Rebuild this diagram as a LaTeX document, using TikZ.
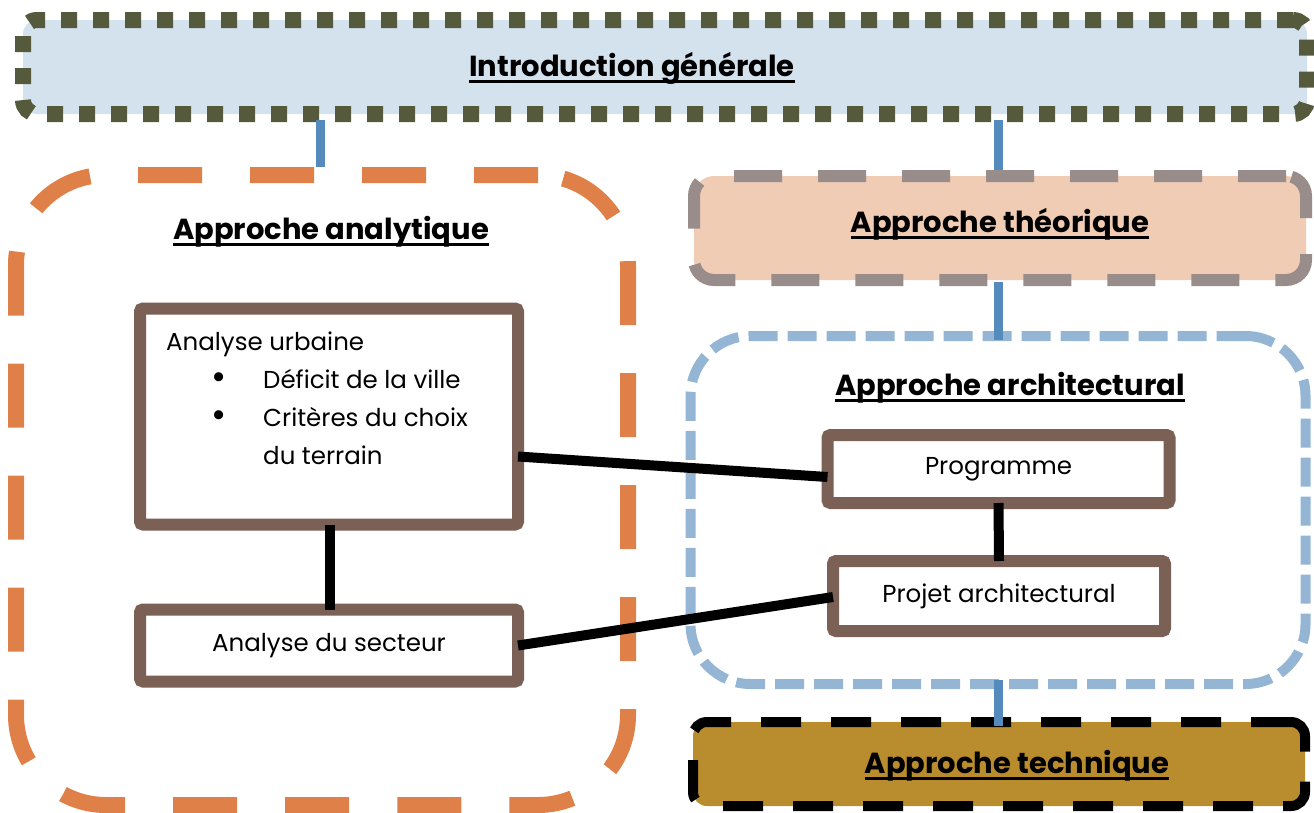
\documentclass[tikz,border=0pt]{standalone}
\usepackage{fontspec}
\setmainfont{Poppins}
\usetikzlibrary{positioning}
\definecolor{introfill}{HTML}{D4E2EE}
\definecolor{olive}{HTML}{555A3C}
\definecolor{orangeD}{HTML}{DE8048}
\definecolor{theofill}{HTML}{F0CCB4}
\definecolor{greyD}{HTML}{988D8B}
\definecolor{archD}{HTML}{94B6D4}
\definecolor{techfill}{HTML}{B98C2E}
\definecolor{brownB}{HTML}{7A6055}
\definecolor{linkblue}{HTML}{558ABC}
\newcommand{\bigbul}{\raisebox{-1pt}{\scalebox{1.5}{•}}}
\tikzset{
  titletext/.style={font=\fontsize{29}{34}\selectfont\bfseries, inner sep=0pt, outer sep=0pt, anchor=base},
  bodytext/.style={font=\fontsize{24.5}{38}\selectfont},
  sectbox/.style={inner sep=0pt, outer sep=0pt},
  itembox/.style={draw=brownB, line width=12pt, fill=white, rounded corners=3pt, inner sep=0pt, outer sep=0pt, bodytext},
  bluelink/.style={draw=linkblue, line width=9pt},
  blacklink/.style={draw=black, line width=10pt},
  uline/.style={draw=black, line width=2.8pt},
}
\begin{document}
\begin{tikzpicture}[x=1pt,y=-1pt]
\useasboundingbox (0,0) rectangle (1314,812);
% Introduction
\node[sectbox, fill=introfill, draw=olive, line width=16pt, dash pattern=on 16pt off 16pt, rounded corners=14pt,
  minimum width=1284pt, minimum height=94pt] (intro) at (665,67) {};
\node[titletext] (introt) at (632,76) {Introduction générale};
\draw[uline] ([yshift=-5.5pt]introt.base west) -- ([yshift=-5.5pt]introt.base east);
% Approche analytique
\node[sectbox, draw=orangeD, line width=16pt, dash pattern=on 64pt off 48pt, rounded corners=90pt,
  minimum width=612pt, minimum height=630pt] (ana) at (322,490) {};
\node[titletext] (anat) at (331,239) {Approche analytique};
\draw[uline] ([yshift=-5.5pt]anat.base west) -- ([yshift=-5.5pt]anat.base east);
% Approche theorique
\node[sectbox, fill=theofill, draw=greyD, line width=12pt, dash pattern=on 48pt off 36pt, rounded corners=20pt,
  minimum width=612pt, minimum height=104pt] (theo) at (1000,228) {};
\node[titletext] (theot) at (1000,232) {Approche théorique};
\draw[uline] ([yshift=-5.5pt]theot.base west) -- ([yshift=-5.5pt]theot.base east);
% Approche architectural
\node[sectbox, draw=archD, line width=10pt, dash pattern=on 29pt off 10pt, rounded corners=60pt,
  minimum width=615pt, minimum height=348pt] (arch) at (998,510) {};
\node[titletext] (archt) at (1010,395) {Approche architectural};
\draw[uline] ([yshift=-5.5pt]archt.base west) -- ([yshift=-5.5pt]archt.base east);
% Approche technique
\node[sectbox, fill=techfill, draw=black, line width=10pt, dash pattern=on 40pt off 30pt, rounded corners=14pt,
  minimum width=612pt, minimum height=84pt] (tech) at (999,764) {};
\node[titletext] (techt) at (1017,773) {Approche technique};
\draw[uline] ([yshift=-5.5pt]techt.base west) -- ([yshift=-5.5pt]techt.base east);
% inner boxes
\node[itembox, minimum width=378pt, minimum height=216pt] (urb) at (329,416.5) {};
\node[bodytext, anchor=base west, align=left, inner sep=0pt] (urbt) at (166,464) {%
Analyse urbaine\\
\hspace*{45pt}\makebox[52pt][l]{\bigbul}Déficit de la ville\\
\hspace*{45pt}\makebox[52pt][l]{\bigbul}Critères du choix\\
\hspace*{97pt}du terrain};
\node[itembox, minimum width=378pt, minimum height=72pt] (sect) at (329,645.5) {Analyse du secteur};
\node[itembox, minimum width=342pt, minimum height=68pt] (prog) at (998.5,469) {Programme};
\node[itembox, minimum width=332pt, minimum height=70pt] (proj) at (999,596) {Projet architectural};
% blue links
\draw[bluelink] ([xshift=-2pt,yshift=-6pt]intro.south -| ana.north) -- ([xshift=-2pt,yshift=8pt]ana.north);
\draw[bluelink] ([xshift=-2pt,yshift=-6pt]intro.south -| theo.north) -- ([xshift=-2pt,yshift=6pt]theo.north);
\draw[bluelink] ([xshift=-2pt,yshift=-2pt]theo.south) -- ([xshift=0pt,yshift=-4pt]arch.north);
\draw[bluelink] ([yshift=4pt]arch.south) -- ([xshift=-1pt,yshift=-4pt]tech.north);
% black links
\draw[blacklink] ([yshift=-40pt]urb.east) -- ([yshift=-8pt]prog.west);
\draw[blacklink] ([yshift=0pt]sect.east) -- ([yshift=-1pt]proj.west);
\draw[blacklink] ([xshift=1pt]urb.south) -- ([xshift=1pt]sect.north);
\draw[blacklink] (prog.south) -- (proj.north);
\end{tikzpicture}
\end{document}
